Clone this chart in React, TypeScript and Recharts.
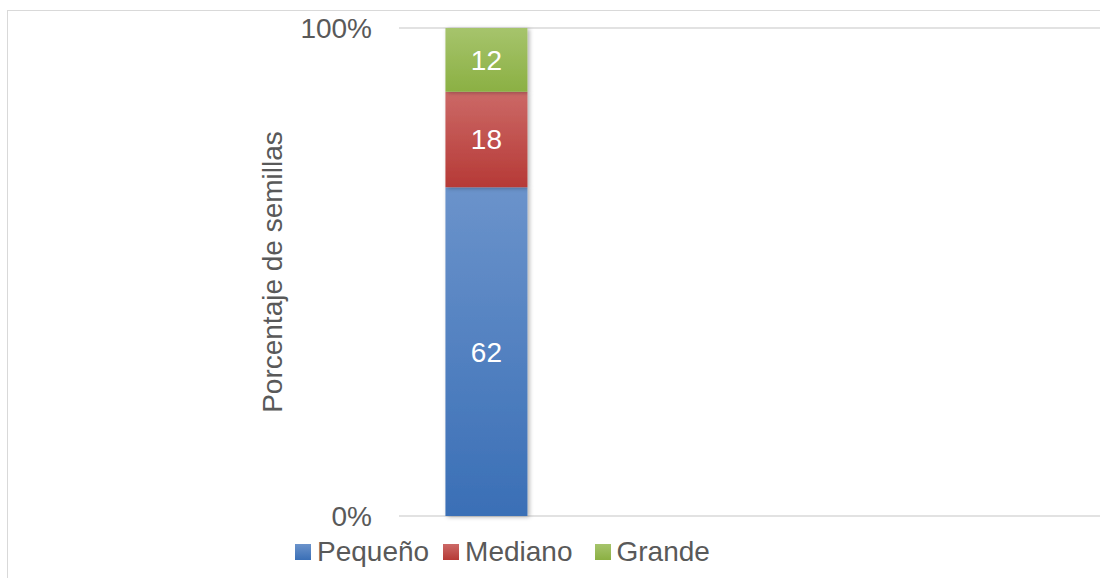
import { BarChart, Bar, XAxis, YAxis, CartesianGrid, Legend, LabelList } from "recharts";

const categories = ["1", "2", "3", "4"];
const pequeno = [62, null, null, null];
const mediano = [18, null, null, null];
const grande = [12, null, null, null];
const yTicks = [0, 1];

const series = [
  { key: "pequeno", name: "Pequeño", top: "#6b93cb", bottom: "#3a6fb6", gapAfter: 14 },
  { key: "mediano", name: "Mediano", top: "#cc6967", bottom: "#b63a36", gapAfter: 22 },
  { key: "grande", name: "Grande", top: "#a6c46c", bottom: "#8bb043", gapAfter: 0 },
];

const data = categories.map((c, i) => ({
  cat: c,
  pequeno: pequeno[i],
  mediano: mediano[i],
  grande: grande[i],
}));

const FONT = "'Liberation Sans', Arial, sans-serif";
const TEXT = "#595959";

function LegendContent() {
  return (
    <div style={{ display: "flex", alignItems: "center", marginLeft: 295, fontFamily: FONT, fontSize: 28, color: TEXT, height: 34 }}>
      {series.map((s) => (
        <div key={s.key} style={{ display: "flex", alignItems: "center", marginRight: s.gapAfter }}>
          <span
            style={{
              display: "inline-block",
              width: 16,
              height: 16,
              marginRight: 6,
              background: `linear-gradient(${s.top}, ${s.bottom})`,
            }}
          />
          <span>{s.name}</span>
        </div>
      ))}
    </div>
  );
}

export default function App() {
  return (
    <div style={{ position: "absolute", left: 0, top: 0, width: 1100, height: 578, overflow: "hidden", background: "#fff" }}>
      <div
        style={{
          position: "absolute",
          left: 7,
          top: 10,
          width: 1110,
          height: 600,
          border: "1px solid #d9d9d9",
          boxSizing: "border-box",
        }}
      />
      <div style={{ position: "absolute", left: 0, top: 0 }}>
        <BarChart
          width={1100}
          height={578}
          data={data}
          stackOffset="expand"
          barCategoryGap="26.5%"
          margin={{ top: 28, right: 0, bottom: 28, left: 145 }}
        >
          <defs>
            {series.map((s) => (
              <linearGradient key={s.key} id={`grad-${s.key}`} x1="0" y1="0" x2="0" y2="1">
                <stop offset="0%" stopColor={s.top} />
                <stop offset="100%" stopColor={s.bottom} />
              </linearGradient>
            ))}
            <filter id="shadow" x="-20%" y="-20%" width="140%" height="140%">
              <feDropShadow dx="2" dy="1" stdDeviation="2" floodColor="#000" floodOpacity="0.3" />
            </filter>
          </defs>
          <CartesianGrid horizontal vertical={false} stroke="#d9d9d9" strokeWidth={1.5} />
          <XAxis dataKey="cat" hide />
          <YAxis
            width={254}
            domain={[0, 1]}
            ticks={yTicks}
            tickFormatter={(v: number) => `${Math.round(v * 100)}%`}
            axisLine={false}
            tickLine={false}
            tickSize={0}
            tickMargin={27}
            tick={{ fill: TEXT, fontSize: 28, fontFamily: FONT }}
            label={{
              value: "Porcentaje de semillas",
              angle: -90,
              position: "center",
              fill: TEXT,
              fontSize: 28,
              fontFamily: FONT,
            }}
          />
          <Legend
            content={<LegendContent />}
            wrapperStyle={{ position: "absolute", left: 0, top: 535, width: 1100, height: 34 }}
          />
          {series.map((s) => (
            <Bar
              key={s.key}
              dataKey={s.key}
              name={s.name}
              stackId="a"
              fill={`url(#grad-${s.key})`}
              filter="url(#shadow)"
              isAnimationActive={false}
            >
              <LabelList
                dataKey={s.key}
                position="center"
                fill="#ffffff"
                fontSize={28}
                fontFamily={FONT}
              />
            </Bar>
          ))}
        </BarChart>
      </div>
    </div>
  );
}
